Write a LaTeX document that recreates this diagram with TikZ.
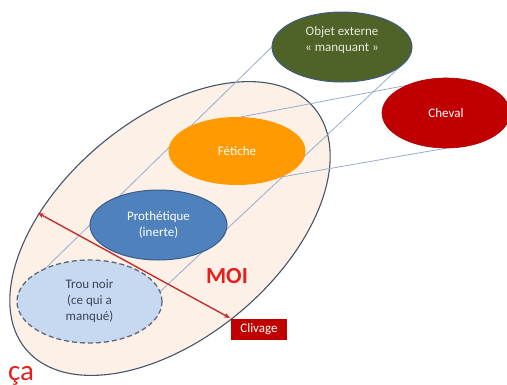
\documentclass[tikz,border=0pt]{standalone}
\usepackage{fontspec}
\setmainfont{Carlito}
\usetikzlibrary{shapes.geometric,arrows.meta}
\definecolor{moifill}{HTML}{FDF0E6}
\definecolor{moiline}{HTML}{44546A}
\definecolor{olivef}{HTML}{4F6228}
\definecolor{objline}{HTML}{3E5C87}
\definecolor{chevalf}{HTML}{C00000}
\definecolor{orangef}{HTML}{FF9A00}
\definecolor{bluef}{HTML}{4F81BD}
\definecolor{blueline}{HTML}{385D8A}
\definecolor{lightb}{HTML}{C6D9F1}
\definecolor{dashc}{HTML}{5E6A7A}
\definecolor{conn}{HTML}{95ACCF}
\definecolor{arrowred}{HTML}{C2302E}
\definecolor{txtred}{HTML}{E3201E}
\definecolor{darktxt}{HTML}{3A4556}
\definecolor{objtxt}{HTML}{E6EBDC}
\begin{document}
\begin{tikzpicture}[x=1pt,y=-1pt,
  blob/.style={ellipse, inner sep=0pt, align=center, font=\fontsize{13}{16}\selectfont},
  lbl/.style={inner sep=0pt, align=center, font=\fontsize{13}{16}\selectfont},
  connector/.style={draw=conn, line width=0.8pt},
]
\useasboundingbox (0,0) rectangle (507,384);
% big MOI ellipse
\node[ellipse, draw=moiline, line width=1.1pt, fill=moifill, minimum width=376pt, minimum height=218pt, rotate=40, inner sep=0pt] (moi) at (170,228.5) {};
% inner ellipses (shapes first, connectors drawn under them)
\coordinate (objc) at (342,47);
\coordinate (chevc) at (446,113);
\coordinate (fetc) at (237,151);
\coordinate (trouc) at (89.5,301.5);
\path (objc) node[blob, minimum width=140pt, minimum height=70pt] (objshape) {};
\path (chevc) node[blob, minimum width=128pt, minimum height=70pt] (chevshape) {};
\path (fetc) node[blob, minimum width=137pt, minimum height=68pt] (fetshape) {};
\path (trouc) node[blob, minimum width=145pt, minimum height=83pt] (troushape) {};
% connectors
\draw[connector] (objshape.west) -- (troushape.143);
\draw[connector] (objshape.-11) -- (troushape.8);
\draw[connector] (chevshape.north) -- (fetshape.154);
\draw[connector] (chevshape.south) -- (fetshape.-30);
% visible ellipses
\node[blob, draw=objline, line width=1pt, fill=olivef, minimum width=140pt, minimum height=70pt] (objet) at (objc) {};
\node[lbl, text=objtxt] (objettxt) at (342,40) {Objet externe\\« manquant »};
\node[blob, draw=chevalf!90!black, line width=0.6pt, fill=chevalf, text=white, minimum width=128pt, minimum height=70pt] (cheval) at (chevc) {Cheval};
\node[blob, fill=orangef, text=white, minimum width=137pt, minimum height=68pt] (fetiche) at (fetc) {Fétiche};
\node[blob, draw=blueline, line width=1pt, fill=bluef, text=white, minimum width=137pt, minimum height=70pt] (prot) at (158.5,225) {Prothétique\\(inerte)};
\node[blob, draw=dashc, line width=1.3pt, dash pattern=on 5pt off 3pt, fill=lightb, text=darktxt, minimum width=145pt, minimum height=83pt] (trou) at (trouc) {Trou noir\\(ce qui a\\manqué)};
% clivage arrow
\coordinate (clivL) at (38,213);
\coordinate (clivR) at (230,318);
\draw[arrowred, line width=1.4pt, {Stealth[length=6pt,width=5pt]}-{Stealth[length=6pt,width=5pt]}] (clivL) -- (clivR);
\node[fill=chevalf, text=white, inner sep=0pt, minimum width=56pt, minimum height=21pt, font=\fontsize{13}{16}\selectfont] (clivage) at (259,329.5) {Clivage};
% labels
\node[anchor=base, inner sep=0pt, text=txtred, font=\fontsize{23}{26}\selectfont\bfseries] (moilbl) at (227,283.3) {MOI};
\node[anchor=base west, inner sep=0pt, text=txtred, font=\fontsize{29}{32}\selectfont] (ca) at (8,380) {ça};
\end{tikzpicture}
\end{document}
